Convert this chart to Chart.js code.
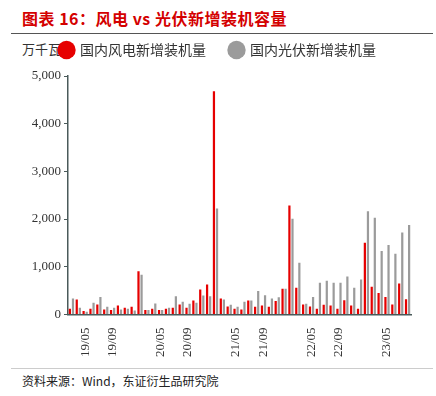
<!DOCTYPE html>
<html>
<head>
<meta charset="utf-8">
<script src="https://cdn.jsdelivr.net/npm/chart.js@4"></script>
<style>
  body { margin: 0; width: 436px; height: 396px; background: #fff; position: relative; overflow: hidden; }
  .title { position: absolute; left: 22px; top: 6px; font: bold 16px "Noto Sans CJK SC"; color: #d40000; letter-spacing: 0.5px; }
  .rule { position: absolute; left: 11px; width: 422px; top: 33px; height: 1px; background: #555; }
  .unit { position: absolute; left: 22px; top: 39px; font: 13px "Noto Sans CJK SC"; color: #333; }
  .rule2 { position: absolute; left: 11px; width: 422px; top: 368px; height: 1px; background: #ccc; }
  .source { position: absolute; left: 22px; top: 372px; font: 12px "Noto Sans CJK SC"; color: #222; }
  #wrap { position: absolute; left: 0; top: 19px; width: 436px; height: 343px; }
</style>
</head>
<body>
<div class="title">图表 16：风电 vs 光伏新增装机容量</div>
<div class="rule"></div>
<div class="unit">万千瓦</div>
<div id="wrap"><canvas id="windPvChart"></canvas></div>
<div class="rule2"></div>
<div class="source">资料来源：Wind，东证衍生品研究院</div>
<script>
// periods (Jan-Feb reported together)
const months = [
  "19/03","19/04","19/05","19/06","19/07","19/08","19/09","19/10","19/11","19/12",
  "20/02","20/03","20/04","20/05","20/06","20/07","20/08","20/09","20/10","20/11","20/12",
  "21/02","21/03","21/04","21/05","21/06","21/07","21/08","21/09","21/10","21/11","21/12",
  "22/02","22/03","22/04","22/05","22/06","22/07","22/08","22/09","22/10","22/11","22/12",
  "23/02","23/03","23/04","23/05","23/06","23/07","23/08"
];
const shownTicks = ["19/05","19/09","20/05","20/09","21/05","21/09","22/05","22/09","23/05"];

// 万千瓦
const windAdded = [
  118, 314, 70, 118, 209, 105, 91, 188, 140, 160,
  906, 91, 118, 91, 118, 140, 209, 140, 293, 523, 628,
  4680, 335, 165, 118, 100, 293, 160, 188, 160, 279, 537,
  2285, 559, 210, 168, 119, 203, 189, 119, 294, 189, 119,
  1503, 580, 448, 364, 210, 650, 315
];
const pvAdded = [
  335, 140, 55, 244, 363, 160, 140, 105, 118, 84,
  830, 91, 230, 91, 140, 383, 265, 223, 244, 397, 383,
  2220, 314, 200, 160, 265, 293, 490, 400, 335, 360, 537,
  2007, 1084, 224, 364, 664, 706, 664, 664, 797, 559, 734,
  2161, 2028, 1329, 1455, 1273, 1720, 1874
];

const axisColor = '#4a5a5a';
const serif = "'Liberation Serif', 'DejaVu Serif', serif";

// legend sits right of the unit text, with some room under it
const legendTweak = {
  id: 'legendTweak',
  beforeInit(chart) {
    const fit = chart.legend.fit;
    chart.legend.fit = function() {
      fit.call(this);
      this.height += 9;
    };
  },
  afterLayout(chart) {
    chart.legend.left += 26;
  }
};

const config = {
  type: 'bar',
  data: {
    labels: months,
    datasets: [{
      label: '国内风电新增装机量',
      data: windAdded,
      backgroundColor: '#e60000',
      barPercentage: 0.72,
      categoryPercentage: 0.9
    }, {
      label: '国内光伏新增装机量',
      data: pvAdded,
      backgroundColor: '#9b9b9b',
      barPercentage: 0.72,
      categoryPercentage: 0.9
    }]
  },
  options: {
    responsive: true,
    maintainAspectRatio: false,
    animation: false,
    layout: { padding: { left: 10, right: 25, top: 0, bottom: 0 } },
    plugins: {
      legend: {
        align: 'start',
        labels: {
          usePointStyle: true,
          pointStyle: 'circle',
          boxWidth: 13,
          boxHeight: 13,
          padding: 24,
          color: '#333',
          font: { family: "'Noto Sans CJK SC'", size: 14 }
        }
      },
      tooltip: { enabled: false }
    },
    scales: {
      x: {
        grid: { display: false },
        border: { display: true, color: axisColor, width: 1.5 },
        ticks: {
          autoSkip: false,
          maxRotation: 90,
          minRotation: 90,
          padding: 5,
          color: '#333',
          font: { family: serif, size: 13 },
          callback: function(value) {
            const lab = this.getLabelForValue(value);
            return shownTicks.includes(lab) ? lab : '';
          }
        }
      },
      y: {
        min: 0,
        max: 5000,
        grid: { display: true, drawOnChartArea: false, drawTicks: true, tickLength: 4, color: axisColor },
        border: { display: true, color: axisColor, width: 1.5 },
        ticks: {
          stepSize: 1000,
          color: '#333',
          padding: 3,
          font: { family: serif, size: 13 }
        },
        afterFit: function(scale) { scale.width = 58; }
      }
    }
  },
  plugins: [legendTweak]
};

window.addEventListener('DOMContentLoaded', () => {
  const windPvChart = new Chart(document.getElementById('windPvChart'), config);
});
</script>
</body>
</html>
